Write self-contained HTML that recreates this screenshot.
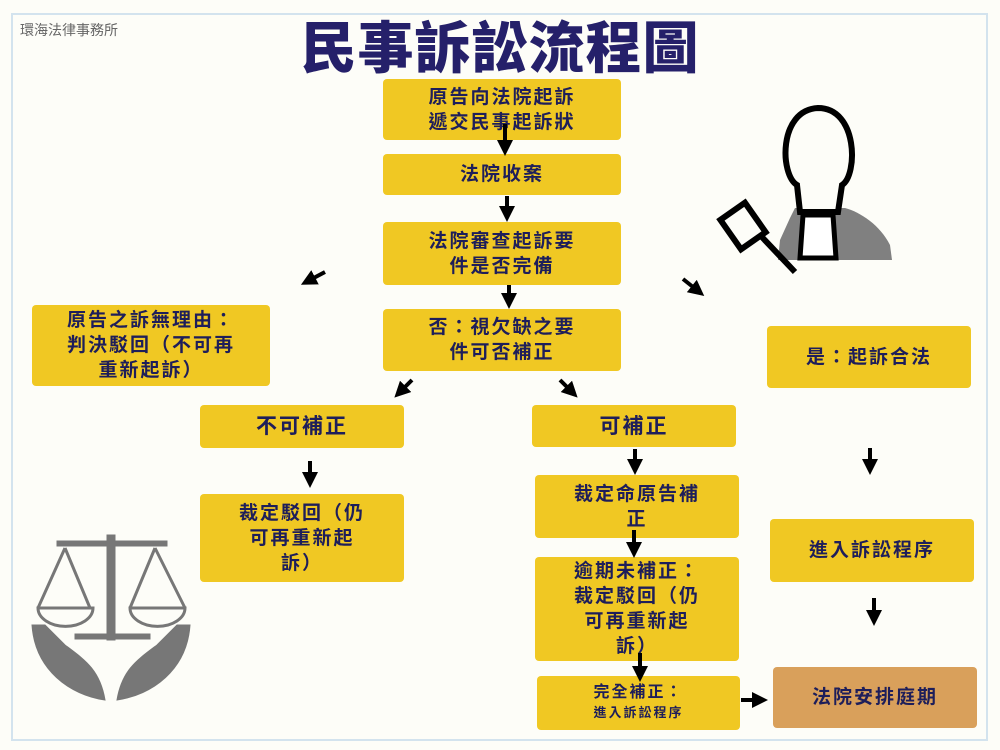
<!DOCTYPE html>
<html><head><meta charset="utf-8"><style>
body{margin:0;width:1000px;height:750px;background:#fdfdf8;overflow:hidden;position:relative;font-family:"Liberation Sans","Noto Sans CJK TC",sans-serif}
.frame{position:absolute;left:11px;top:13px;width:977px;height:728px;border:2px solid #d3e3ee;box-sizing:border-box}
.b{position:absolute;background:#f0c823;border-radius:4px;color:#1e1e5a;font-weight:bold;display:flex;align-items:center;justify-content:center;text-align:center;font-size:19px;line-height:25px;letter-spacing:2px}
.o{background:#d9a05b}
h1{position:absolute;left:0;width:1000px;top:14px;margin:0;text-align:center;font-size:56px;color:#25206a;font-weight:900;letter-spacing:1px;line-height:70px}
.logo{position:absolute;left:20px;top:20px;font-size:14px;color:#666}
svg{position:absolute;left:0;top:0}
</style></head><body>
<div class="frame"></div>
<div class="logo">環海法律事務所</div>
<h1>民事訴訟流程圖</h1>
<div class="b" style="left:383px;top:79px;width:238px;height:61px">原告向法院起訴<br>遞交民事起訴狀</div>
<div class="b" style="left:383px;top:154px;width:238px;height:41px">法院收案</div>
<div class="b" style="left:383px;top:222px;width:238px;height:63px">法院審查起訴要<br>件是否完備</div>
<div class="b" style="left:383px;top:309px;width:238px;height:62px">否：視欠缺之要<br>件可否補正</div>
<div class="b" style="left:32px;top:305px;width:238px;height:81px">原告之訴無理由：<br>判決駁回（不可再<br>重新起訴）</div>
<div class="b" style="left:200px;top:405px;width:204px;height:43px;font-size:21px">不可補正</div>
<div class="b" style="left:200px;top:494px;width:204px;height:88px">裁定駁回（仍<br>可再重新起<br>訴）</div>
<div class="b" style="left:532px;top:405px;width:204px;height:42px;font-size:21px">可補正</div>
<div class="b" style="left:535px;top:475px;width:204px;height:63px">裁定命原告補<br>正</div>
<div class="b" style="left:535px;top:557px;width:204px;height:104px">逾期未補正：<br>裁定駁回（仍<br>可再重新起<br>訴）</div>
<div class="b" style="left:537px;top:676px;width:203px;height:54px;display:block;padding-top:7px;box-sizing:border-box;font-size:16px;line-height:20px">完全補正：<br><span style="font-size:13px">進入訴訟程序</span></div>
<div class="b" style="left:767px;top:326px;width:204px;height:62px">是：起訴合法</div>
<div class="b" style="left:770px;top:519px;width:204px;height:63px">進入訴訟程序</div>
<div class="b o" style="left:773px;top:667px;width:204px;height:61px">法院安排庭期</div>
<svg width="1000" height="750">
<defs><marker id="a" markerWidth="4" markerHeight="4" refX="2" refY="2" orient="auto"><path d="M0,0 L4,2 L0,4 z" fill="#000"/></marker></defs>
<g stroke="#000" stroke-width="4" marker-end="url(#a)">
<line x1="505" y1="124" x2="505" y2="148"/>
<line x1="507" y1="196" x2="507" y2="214"/>
<line x1="509" y1="285" x2="509" y2="301"/>
<line x1="325" y1="272" x2="308" y2="281"/>
<line x1="683" y1="279" x2="698" y2="291"/>
<line x1="412" y1="380" x2="400" y2="392"/>
<line x1="560" y1="380" x2="572" y2="392"/>
<line x1="310" y1="461" x2="310" y2="480"/>
<line x1="635" y1="449" x2="635" y2="467"/>
<line x1="634" y1="530" x2="634" y2="550"/>
<line x1="640" y1="653" x2="640" y2="674"/>
<line x1="870" y1="448" x2="870" y2="467"/>
<line x1="874" y1="598" x2="874" y2="618"/>
<line x1="741" y1="700" x2="760" y2="700"/>
</g>
<!-- person -->
<path d="M795,208 L790,218 L780,240 L778,260 L892,260 L890,245 C880,225 860,212 845,208 Z" fill="#808080"/>
<path d="M797,185 C780,175 778,110 818,108 C858,108 858,175 842,185 L838,212 L800,212 Z" fill="#fdfdf8" stroke="#000" stroke-width="6"/>
<path d="M803,215 L833,215 L836,258 L800,258 Z" fill="#fff" stroke="#000" stroke-width="5"/>
<g stroke="#000" stroke-width="6" fill="none"><rect x="728" y="208" width="30" height="36" transform="rotate(-35 743 226)"/><line x1="760" y1="235" x2="795" y2="272"/></g>
<!-- scales -->
<g fill="#777" stroke="#777">
<rect x="57" y="541" width="110" height="5"/>
<rect x="107" y="535" width="8" height="105"/>
<rect x="75" y="634" width="75" height="5"/>
<path d="M38,608 h55 a27,18 0 0 1 -55,0z M130,608 h55 a27,18 0 0 1 -55,0z" fill="none" stroke-width="3"/>
<path d="M65,548 L38,608 M65,548 L90,608 M155,548 L130,608 M155,548 L185,608" stroke-width="3" fill="none"/>
<path d="M32,625 C35,670 70,695 105,700 C100,670 85,660 65,645 L45,625Z M190,625 C187,670 152,695 117,700 C122,670 137,660 157,645 L177,625Z"/>
</g>
</svg>
</body></html>
